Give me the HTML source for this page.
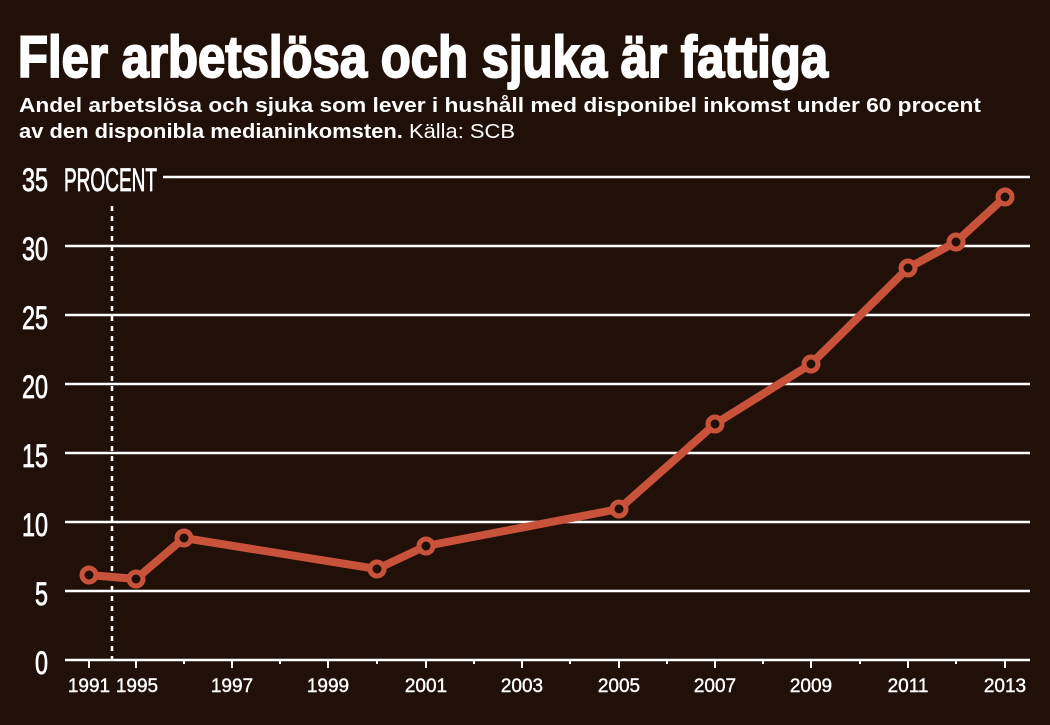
<!DOCTYPE html>
<html><head><meta charset="utf-8"><style>
html,body{margin:0;padding:0;background:#211007;}
svg{display:block}
</style></head><body>
<svg width="1050" height="725" viewBox="0 0 1050 725" xmlns="http://www.w3.org/2000/svg">
<rect width="1050" height="725" fill="#211007"/>
<text x="18" y="77" font-family="Liberation Sans, sans-serif" font-weight="bold" font-size="58" fill="#fff" stroke="#fff" stroke-width="2" textLength="810" lengthAdjust="spacingAndGlyphs">Fler arbetslösa och sjuka är fattiga</text>
<text x="19" y="112" font-family="Liberation Sans, sans-serif" font-weight="bold" font-size="20" fill="#fff" textLength="962" lengthAdjust="spacingAndGlyphs">Andel arbetslösa och sjuka som lever i hushåll med disponibel inkomst under 60 procent</text>
<text x="19" y="138" font-family="Liberation Sans, sans-serif" font-size="20" fill="#fff" textLength="496" lengthAdjust="spacingAndGlyphs"><tspan font-weight="bold">av den disponibla medianinkomsten.</tspan> Källa: SCB</text>
<g stroke="#fff" stroke-width="2.5">
<line x1="163" y1="177" x2="1030" y2="177"/>
<line x1="65" y1="246" x2="1030" y2="246"/>
<line x1="65" y1="315" x2="1030" y2="315"/>
<line x1="65" y1="384" x2="1030" y2="384"/>
<line x1="65" y1="453" x2="1030" y2="453"/>
<line x1="65" y1="522" x2="1030" y2="522"/>
<line x1="65" y1="591" x2="1030" y2="591"/>
<line x1="65" y1="660" x2="1030" y2="660"/>
</g>
<line x1="112" y1="206" x2="112" y2="660" stroke="#fff" stroke-width="2.5" stroke-dasharray="5,5"/>
<g stroke="#fff" stroke-width="2">
<line x1="89" y1="660" x2="89" y2="668"/><line x1="136" y1="660" x2="136" y2="668"/><line x1="184" y1="660" x2="184" y2="664"/>
<line x1="232" y1="660" x2="232" y2="668"/><line x1="280" y1="660" x2="280" y2="664"/><line x1="328" y1="660" x2="328" y2="668"/>
<line x1="377" y1="660" x2="377" y2="664"/><line x1="426" y1="660" x2="426" y2="668"/><line x1="474" y1="660" x2="474" y2="664"/>
<line x1="522" y1="660" x2="522" y2="668"/><line x1="570" y1="660" x2="570" y2="664"/><line x1="619" y1="660" x2="619" y2="668"/>
<line x1="667" y1="660" x2="667" y2="664"/><line x1="715" y1="660" x2="715" y2="668"/><line x1="763" y1="660" x2="763" y2="664"/>
<line x1="811" y1="660" x2="811" y2="668"/><line x1="860" y1="660" x2="860" y2="664"/><line x1="908" y1="660" x2="908" y2="668"/>
<line x1="956" y1="660" x2="956" y2="664"/><line x1="1005" y1="660" x2="1005" y2="668"/>
</g>
<g font-family="Liberation Sans, sans-serif" font-size="32" fill="#fff" stroke="#fff" stroke-width="0.8" text-anchor="end">
<text x="48" y="191" textLength="26" lengthAdjust="spacingAndGlyphs">35</text>
<text x="48" y="260" textLength="26" lengthAdjust="spacingAndGlyphs">30</text>
<text x="48" y="329" textLength="26" lengthAdjust="spacingAndGlyphs">25</text>
<text x="48" y="398" textLength="26" lengthAdjust="spacingAndGlyphs">20</text>
<text x="48" y="467" textLength="26" lengthAdjust="spacingAndGlyphs">15</text>
<text x="48" y="536" textLength="26" lengthAdjust="spacingAndGlyphs">10</text>
<text x="48" y="605" textLength="13" lengthAdjust="spacingAndGlyphs">5</text>
<text x="48" y="674" textLength="13" lengthAdjust="spacingAndGlyphs">0</text>
</g>
<text x="64" y="191" font-family="Liberation Sans, sans-serif" font-size="32" fill="#fff" stroke="#fff" stroke-width="0.8" textLength="93" lengthAdjust="spacingAndGlyphs">PROCENT</text>
<g font-family="Liberation Sans, sans-serif" font-size="19" fill="#fff" stroke="#fff" stroke-width="0.4" text-anchor="middle">
<text x="89" y="692">1991</text><text x="137" y="692">1995</text><text x="232" y="692">1997</text>
<text x="328" y="692">1999</text><text x="426" y="692">2001</text><text x="522" y="692">2003</text>
<text x="619" y="692">2005</text><text x="715" y="692">2007</text><text x="811" y="692">2009</text>
<text x="908" y="692">2011</text><text x="1005" y="692">2013</text>
</g>
<polyline fill="none" stroke="#c9533a" stroke-width="8" stroke-linejoin="round" points="89,575 136,579 184,538 377,569 426,546 619,509 715,424 811,364 908,268 956,242 1005,197"/>
<g fill="#211007" stroke="#c9533a" stroke-width="5">
<circle cx="89" cy="575" r="7"/><circle cx="136" cy="579" r="7"/><circle cx="184" cy="538" r="7"/>
<circle cx="377" cy="569" r="7"/><circle cx="426" cy="546" r="7"/><circle cx="619" cy="509" r="7"/>
<circle cx="715" cy="424" r="7"/><circle cx="811" cy="364" r="7"/><circle cx="908" cy="268" r="7"/>
<circle cx="956" cy="242" r="7"/><circle cx="1005" cy="197" r="7"/>
</g>
</svg>
</body></html>
